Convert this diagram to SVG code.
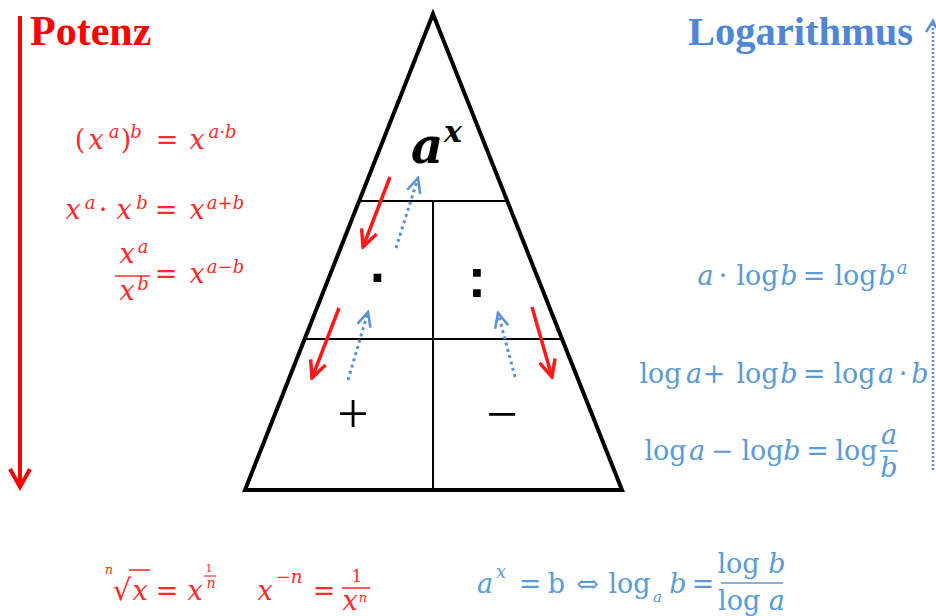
<svg xmlns="http://www.w3.org/2000/svg" width="936" height="616" viewBox="0 0 936 616">
<style>
.r{fill:#ff2b2b;font-family:"DejaVu Serif",serif;font-size:27px}
.b{fill:#5b9bd5;font-family:"DejaVu Serif",serif;font-size:27px}
.i{font-style:italic}
.s{font-size:18px}
.t{fill:none;stroke:#000;stroke-width:4;stroke-linejoin:miter}
.g{stroke:#000;stroke-width:2}
.ra{fill:none;stroke:#ff1a1a;stroke-width:3.5}
.ba{fill:none;stroke:#5b8fd9;stroke-width:3;stroke-dasharray:3 3.5}
.sym{fill:#000}
</style>
<defs>
<marker id="rh" viewBox="0 0 20 20" markerWidth="20" markerHeight="20" refX="18" refY="10" markerUnits="userSpaceOnUse" orient="auto">
<path d="M1,2 L18,10 L1,18" fill="none" stroke="#ff1a1a" stroke-width="3.5"/>
</marker>
<marker id="bh" viewBox="0 0 20 20" markerWidth="17" markerHeight="17" refX="18" refY="10" markerUnits="userSpaceOnUse" orient="auto">
<path d="M1,2 L18,10 L1,18" fill="none" stroke="#5b8fd9" stroke-width="3"/>
</marker>
</defs>
<rect width="936" height="616" fill="#fff"/>

<g id="triangle">
<polygon class="t" points="433,14 622,490 245,490"/>
<line class="g" x1="359" y1="201" x2="507" y2="201"/>
<line class="g" x1="304.5" y1="339" x2="561.5" y2="339"/>
<line class="g" x1="433" y1="201" x2="433" y2="490"/>
</g>

<g id="top-cell">
<text font-family="DejaVu Serif,serif" font-weight="bold" font-style="italic" fill="#000"><tspan x="411" y="163" font-size="50">a</tspan><tspan x="444" y="142" font-size="30">x</tspan></text>
</g>
<g id="mul-cell"><text class="sym" x="379" y="296" font-family="Liberation Sans,sans-serif" font-size="55" font-weight="bold" text-anchor="middle">·</text></g>
<g id="div-cell"><text class="sym" x="477" y="297" font-family="Liberation Sans,sans-serif" font-size="55" font-weight="bold" text-anchor="middle">:</text></g>
<g id="add-cell"><text class="sym" x="353" y="433" font-family="Liberation Serif,serif" font-size="56" text-anchor="middle">+</text></g>
<g id="sub-cell"><text class="sym" x="502" y="433" font-family="Liberation Serif,serif" font-size="56" text-anchor="middle">−</text></g>

<g id="titles">
<text x="30" y="45" font-family="Liberation Serif,serif" font-weight="bold" font-size="42" fill="#ff0000">Potenz</text>
<text x="688" y="45" font-family="Liberation Serif,serif" font-weight="bold" font-size="40.5" fill="#4f86d6">Logarithmus</text>
</g>

<g id="connectors">
<line x1="20" y1="16" x2="20" y2="486" stroke="#ff0000" stroke-width="4"/>
<polyline points="10,469 20,487 30,469" fill="none" stroke="#ff0000" stroke-width="4"/>
<line x1="933" y1="470" x2="933" y2="22" stroke="#5b8fd9" stroke-width="2.5" stroke-dasharray="2 2"/>
<polyline points="926,32 933,21 936,28" fill="none" stroke="#5b8fd9" stroke-width="2.5"/>
<line class="ra" x1="390" y1="177" x2="363" y2="247" marker-end="url(#rh)"/>
<line class="ra" x1="339" y1="308" x2="312" y2="378" marker-end="url(#rh)"/>
<line class="ra" x1="532" y1="307" x2="552" y2="377" marker-end="url(#rh)"/>
<line class="ba" x1="396" y1="248" x2="418" y2="178" marker-end="url(#bh)"/>
<line class="ba" x1="348" y1="380" x2="368" y2="312" marker-end="url(#bh)"/>
<line class="ba" x1="515" y1="377" x2="498" y2="313" marker-end="url(#bh)"/>
</g>

<g id="potenz-rules">
<text class="r" text-anchor="middle"><tspan x="80" y="149">(</tspan><tspan class="i" x="96" y="149">x</tspan><tspan class="i s" x="114" y="138">a</tspan><tspan x="126" y="149">)</tspan><tspan class="i s" x="136" y="138">b</tspan><tspan x="167" y="149">=</tspan><tspan class="i" x="197" y="149">x</tspan><tspan class="i s" x="222.5" y="138">a·b</tspan></text>
<text class="r" text-anchor="middle"><tspan class="i" x="73" y="219">x</tspan><tspan class="i s" x="90" y="209">a</tspan><tspan x="103" y="219">·</tspan><tspan class="i" x="124" y="219">x</tspan><tspan class="i s" x="142" y="209">b</tspan><tspan x="166" y="219">=</tspan><tspan class="i" x="197" y="219">x</tspan><tspan class="i s" x="225.5" y="209">a+b</tspan></text>
<text class="r" text-anchor="middle"><tspan class="i" x="127" y="263">x</tspan><tspan class="i s" x="143" y="253">a</tspan><tspan class="i" x="127" y="300">x</tspan><tspan class="i s" x="143" y="290">b</tspan><tspan x="166" y="283">=</tspan><tspan class="i" x="197" y="283">x</tspan><tspan class="i s" x="225.5" y="273">a−b</tspan></text>
<line x1="115" y1="276" x2="150" y2="276" stroke="#ff2b2b" stroke-width="1.6"/>
<text class="r" text-anchor="middle"><tspan class="i" x="109" y="574" font-size="13">n</tspan><tspan x="122" y="600" font-size="29">√</tspan><tspan class="i" x="140" y="600">x</tspan><tspan x="167" y="600">=</tspan><tspan class="i" x="195" y="600">x</tspan><tspan x="209" y="572" font-size="11">1</tspan><tspan class="i" x="211" y="588" font-size="14">n</tspan></text>
<line x1="129" y1="570" x2="150" y2="570" stroke="#ff2b2b" stroke-width="1.6"/>
<line x1="204" y1="576" x2="216" y2="576" stroke="#ff2b2b" stroke-width="1.2"/>
<text class="r" text-anchor="middle"><tspan class="i" x="265" y="600">x</tspan><tspan class="s" x="289" y="583">−<tspan class="i">n</tspan></tspan><tspan x="324" y="600">=</tspan><tspan x="357" y="582" font-size="17">1</tspan><tspan class="i" x="350" y="610">x</tspan><tspan class="i" x="363" y="602" font-size="13">n</tspan></text>
<line x1="342" y1="588" x2="370" y2="588" stroke="#ff2b2b" stroke-width="1.6"/>
</g>

<g id="log-rules">
<text class="b" text-anchor="middle"><tspan class="i" x="705.5" y="285">a</tspan><tspan x="723" y="285">·</tspan><tspan x="757.5" y="285">log</tspan><tspan class="i" x="789" y="285">b</tspan><tspan x="814" y="285">=</tspan><tspan x="855.5" y="285">log</tspan><tspan class="i" x="887" y="285">b</tspan><tspan class="i s" x="902" y="274">a</tspan></text>
<text class="b" text-anchor="middle"><tspan x="660.5" y="383">log</tspan><tspan class="i" x="694" y="383">a</tspan><tspan x="714" y="383">+</tspan><tspan x="757.5" y="383">log</tspan><tspan class="i" x="789" y="383">b</tspan><tspan x="814" y="383">=</tspan><tspan x="854.5" y="383">log</tspan><tspan class="i" x="886" y="383">a</tspan><tspan x="903" y="383">·</tspan><tspan class="i" x="920" y="383">b</tspan></text>
<text class="b" text-anchor="middle"><tspan x="665.5" y="460">log</tspan><tspan class="i" x="697" y="460">a</tspan><tspan x="722" y="460">−</tspan><tspan x="762.5" y="460">log</tspan><tspan class="i" x="792" y="460">b</tspan><tspan x="817.5" y="460">=</tspan><tspan x="856.5" y="460">log</tspan><tspan class="i" x="889" y="444">a</tspan><tspan class="i" x="889" y="477">b</tspan></text>
<line x1="880" y1="451" x2="898" y2="451" stroke="#5b9bd5" stroke-width="1.6"/>
<text class="b" text-anchor="middle"><tspan class="i" x="485" y="593">a</tspan><tspan class="i s" x="501" y="578">x</tspan><tspan x="530" y="593">=</tspan><tspan x="556.5" y="593">b</tspan><tspan x="587.5" y="593">⇔</tspan><tspan x="629.5" y="593">log</tspan><tspan class="i" x="657.5" y="602" font-size="15">a</tspan><tspan class="i" x="678" y="593">b</tspan><tspan x="703" y="593">=</tspan><tspan x="751.5" y="573">log <tspan class="i">b</tspan></tspan><tspan x="751.5" y="610">log <tspan class="i">a</tspan></tspan></text>
<line x1="721" y1="583" x2="783" y2="583" stroke="#5b9bd5" stroke-width="1.6"/>
</g>
</svg>
